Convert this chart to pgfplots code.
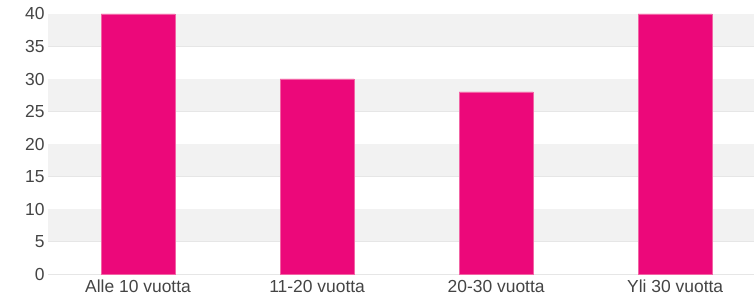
\documentclass[border=0pt]{standalone}
\usepackage{fontspec}
\setmainfont{Liberation Sans}
\usepackage{pgfplots}
\pgfplotsset{compat=1.18}
\definecolor{barpink}{RGB}{236,8,122}
\definecolor{baredge}{RGB}{242,100,165}
\definecolor{band}{RGB}{242,242,242}
\definecolor{gridc}{RGB}{230,230,230}
\definecolor{txt}{RGB}{68,68,68}
\begin{document}
\begin{tikzpicture}
\useasboundingbox (0,0) rectangle (754bp,299bp);
\begin{axis}[
  at={(48bp,25bp)}, anchor=south west,
  scale only axis, width=706bp, height=260bp,
  xmin=-0.503, xmax=3.44, ymin=0, ymax=40,
  xtick=data,
  xticklabels={Alle 10 vuotta,11-20 vuotta,20-30 vuotta,Yli 30 vuotta},
  ytick={0,5,...,40},
  ymajorgrids, grid style={gridc, line width=0.8bp},
  axis line style={draw=none},
  major tick length=0pt,
  tick label style={font=\fontsize{17.5}{20}\selectfont, text=txt},
  /pgf/number format/assume math mode=true,
  xticklabel style={anchor=north, text height=12bp, text depth=3bp, yshift=-2.5bp},
  clip=false,
]
\fill[band] (axis cs:-0.503,5) rectangle (axis cs:3.44,10);
\fill[band] (axis cs:-0.503,15) rectangle (axis cs:3.44,20);
\fill[band] (axis cs:-0.503,25) rectangle (axis cs:3.44,30);
\fill[band] (axis cs:-0.503,35) rectangle (axis cs:3.44,40);
\addplot[ybar, bar width=74bp, fill=barpink, draw=baredge, line width=0.7bp]
  coordinates {(0,40) (1,30) (2,28) (3,40)};
\end{axis}
\end{tikzpicture}
\end{document}
